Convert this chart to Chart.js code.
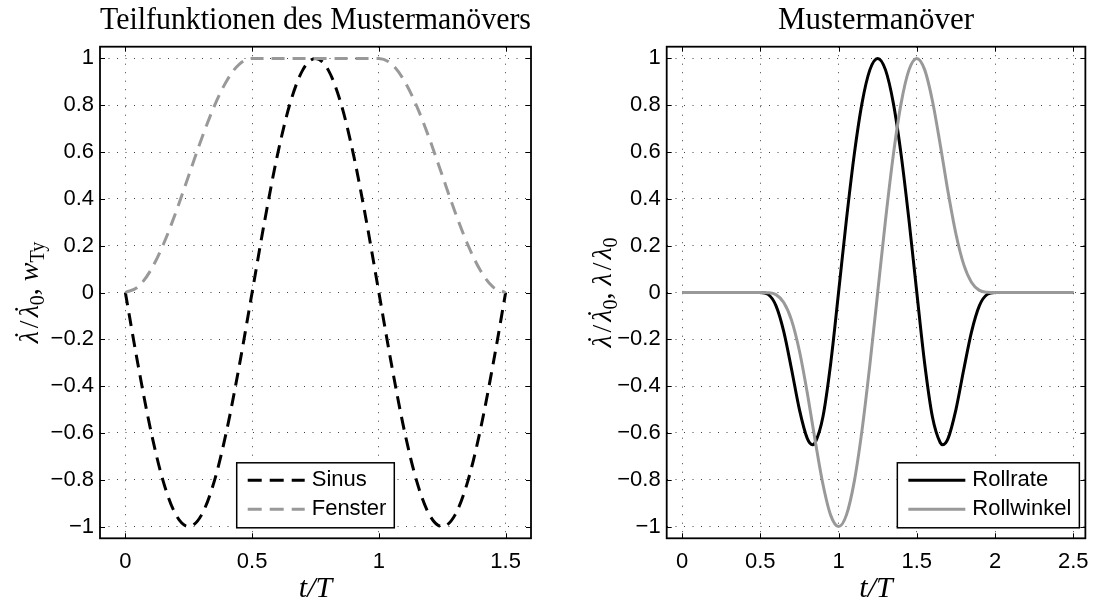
<!DOCTYPE html>
<html>
<head>
<meta charset="utf-8">
<script src="https://cdn.jsdelivr.net/npm/chart.js@4.4.1/dist/chart.umd.min.js"></script>
<style>
  html, body { margin: 0; padding: 0; background: #fff; overflow: hidden; }
  #wrap { position: relative; width: 1099px; height: 605px; }
  canvas { position: absolute; top: 0; }
  #left { left: 0; }
  #right { left: 560px; }
</style>
</head>
<body>
<div id="wrap">
  <canvas id="left" width="560" height="605"></canvas>
  <canvas id="right" width="539" height="605"></canvas>
</div>
<script>
// left panel: t/T from 0 to 1.5
const tLeft = [0, 0.05, 0.1, 0.15, 0.2, 0.25, 0.3, 0.35, 0.4, 0.45, 0.5, 0.55, 0.6, 0.65, 0.7, 0.75,
  0.8, 0.85, 0.9, 0.95, 1, 1.05, 1.1, 1.15, 1.2, 1.25, 1.3, 1.35, 1.4, 1.45, 1.5];
const sinusValues = [0, -0.309, -0.588, -0.809, -0.951, -1, -0.951, -0.809, -0.588, -0.309, 0,
  0.309, 0.588, 0.809, 0.951, 1, 0.951, 0.809, 0.588, 0.309, 0,
  -0.309, -0.588, -0.809, -0.951, -1, -0.951, -0.809, -0.588, -0.309, 0];
const fensterValues = [0, 0.024, 0.095, 0.206, 0.345, 0.5, 0.655, 0.794, 0.905, 0.976, 1,
  1, 1, 1, 1, 1, 1, 1, 1, 1, 1,
  0.976, 0.905, 0.794, 0.655, 0.5, 0.345, 0.206, 0.095, 0.024, 0];

// right panel: t/T from 0 to 2.5
const tRight = [0, 0.5, 0.55, 0.6, 0.65, 0.7, 0.75, 0.8, 0.8333, 0.85, 0.9, 0.95, 1,
  1.05, 1.1, 1.15, 1.2, 1.25, 1.3, 1.35, 1.4, 1.45, 1.5,
  1.55, 1.6, 1.65, 1.6667, 1.7, 1.75, 1.8, 1.85, 1.9, 1.95, 2, 2.5];
const rollrateValues = [0, 0, -0.008, -0.056, -0.167, -0.329, -0.5, -0.623, -0.65, -0.642, -0.532, -0.302, 0,
  0.309, 0.588, 0.809, 0.951, 1, 0.951, 0.809, 0.588, 0.309, 0,
  -0.302, -0.532, -0.642, -0.65, -0.623, -0.5, -0.329, -0.167, -0.056, -0.008, 0, 0];
const rollwinkelValues = [0, 0, -0.001, -0.009, -0.043, -0.119, -0.25, -0.428, -0.563, -0.63, -0.818, -0.952, -1,
  -0.951, -0.809, -0.588, -0.309, 0, 0.309, 0.588, 0.809, 0.951, 1,
  0.952, 0.818, 0.63, 0.563, 0.428, 0.25, 0.119, 0.043, 0.009, 0.001, 0, 0];

const yTicks = [-1, -0.8, -0.6, -0.4, -0.2, 0, 0.2, 0.4, 0.6, 0.8, 1];
const yTickLabels = ['\u22121', '\u22120.8', '\u22120.6', '\u22120.4', '\u22120.2', '0', '0.2', '0.4', '0.6', '0.8', '1'];
const xTicksLeft = [0, 0.5, 1, 1.5];
const xTickLabelsLeft = ['0', '0.5', '1', '1.5'];
const xTicksRight = [0, 0.5, 1, 1.5, 2, 2.5];
const xTickLabelsRight = ['0', '0.5', '1', '1.5', '2', '2.5'];

// y-axis label pieces (dot = dot accent over the letter)
const yLabelLeft = [
  { t: 'λ', italic: true, dot: true }, { t: '/', gap: 3 }, { t: 'λ', italic: true, dot: true }, { t: '0', sub: true },
  { t: ', ' }, { t: 'w', italic: true }, { t: 'Ty', sub: true }
];
const yLabelRight = [
  { t: 'λ', italic: true, dot: true }, { t: '/', gap: 3 }, { t: 'λ', italic: true, dot: true }, { t: '0', sub: true },
  { t: ', ' }, { t: 'λ', italic: true }, { t: '/', gap: 3 }, { t: 'λ', italic: true }, { t: '0', sub: true }
];

const sansFont = "'Liberation Sans', Arial, sans-serif";
const serifFont = "'Liberation Serif', 'Times New Roman', serif";

function points(xs, ys) {
  return xs.map((x, i) => ({ x: x, y: ys[i] }));
}

// axes box with inward ticks on all four sides
const framePlugin = {
  id: 'frame',
  afterDraw(chart) {
    const { ctx, chartArea: a, scales: { x, y } } = chart;
    ctx.save();
    ctx.strokeStyle = '#000';
    ctx.lineWidth = 1;
    ctx.beginPath();
    x.ticks.forEach(t => {
      const px = Math.round(x.getPixelForValue(t.value)) + 0.5;
      ctx.moveTo(px, a.bottom); ctx.lineTo(px, a.bottom - 5);
      ctx.moveTo(px, a.top); ctx.lineTo(px, a.top + 5);
    });
    y.ticks.forEach(t => {
      const py = Math.round(y.getPixelForValue(t.value)) + 0.5;
      ctx.moveTo(a.left, py); ctx.lineTo(a.left + 5, py);
      ctx.moveTo(a.right, py); ctx.lineTo(a.right - 5, py);
    });
    ctx.stroke();
    ctx.lineWidth = 1.8;
    ctx.strokeRect(a.left, a.top, a.right - a.left, a.bottom - a.top);
    ctx.restore();
  }
};

function makeLegend(align) {
  return {
    id: 'boxLegend',
    afterDraw(chart) {
      const { ctx, chartArea: a } = chart;
      const sets = chart.data.datasets;
      ctx.save();
      ctx.font = '22px ' + sansFont;
      const textW = Math.max(...sets.map(d => ctx.measureText(d.label).width));
      const w = 75 + textW + 8, h = 65;
      const left = align === 'center' ? (a.left + a.right - w) / 2 : a.right - 6 - w;
      const top = a.bottom - 10.5 - h;
      ctx.fillStyle = '#fff';
      ctx.fillRect(left, top, w, h);
      ctx.strokeStyle = '#000';
      ctx.lineWidth = 1.5;
      ctx.strokeRect(left, top, w, h);
      sets.forEach((d, i) => {
        const yy = top + 17.5 + i * 29;
        ctx.strokeStyle = d.borderColor;
        ctx.lineWidth = d.borderWidth;
        ctx.setLineDash(d.borderDash ? [14, 8] : []);
        ctx.beginPath();
        ctx.moveTo(left + 11, yy);
        ctx.lineTo(left + 68, yy);
        ctx.stroke();
        ctx.setLineDash([]);
        ctx.fillStyle = '#000';
        ctx.textBaseline = 'middle';
        ctx.fillText(d.label, left + 75, yy);
      });
      ctx.restore();
    }
  };
}

function makeYLabel(parts, baseline) {
  return {
    id: 'yLabel',
    afterDraw(chart) {
      const { ctx, chartArea: a } = chart;
      const main = 28, sub = 20;
      const fontOf = s => (s.italic ? 'italic ' : '') + (s.sub ? sub : main) + 'px ' + serifFont;
      const widths = parts.map(s => {
        ctx.font = fontOf(s);
        return ctx.measureText(s.t).width + 2 * (s.gap || 0);
      });
      const total = widths.reduce((p, c) => p + c, 0);
      ctx.save();
      ctx.fillStyle = '#000';
      ctx.translate(baseline, (a.top + a.bottom) / 2);
      ctx.rotate(-Math.PI / 2);
      ctx.textBaseline = 'alphabetic';
      let x = -total / 2;
      parts.forEach((s, i) => {
        ctx.font = fontOf(s);
        ctx.textAlign = 'left';
        ctx.fillText(s.t, x + (s.gap || 0), s.sub ? 6 : 0);
        if (s.dot) {
          ctx.textAlign = 'center';
          ctx.font = main + 'px ' + serifFont;
          ctx.fillText('\u02D9', x + widths[i] / 2 + 2, -5);
        }
        x += widths[i];
      });
      ctx.restore();
    }
  };
}

function createChart(canvasId, datasets, opts) {
  return new Chart(document.getElementById(canvasId), {
    type: 'line',
    data: { datasets: datasets },
    options: {
      responsive: false,
      animation: false,
      layout: { padding: { left: 0, right: opts.padRight, top: 0, bottom: 0 } },
      elements: {
        point: { radius: 0 },
        line: { cubicInterpolationMode: 'monotone' }
      },
      plugins: {
        legend: { display: false },
        tooltip: { enabled: false },
        title: {
          display: true,
          fullSize: false,
          text: opts.title,
          color: '#000',
          font: { family: serifFont, size: 31, weight: 'normal', lineHeight: 1 },
          padding: { top: 5.5, bottom: 10.2 }
        }
      },
      scales: {
        x: {
          type: 'linear',
          min: opts.xMin,
          max: opts.xMax,
          afterBuildTicks: s => { s.ticks = opts.xTicks.map(v => ({ value: v })); },
          afterFit: s => { s.height = 66.7; },
          grid: { color: 'rgba(0,0,0,0.75)', lineWidth: 1, drawTicks: false },
          border: { display: false, dash: [1, 7.5] },
          ticks: {
            padding: 10, color: '#000', maxRotation: 0, autoSkip: false,
            font: { family: sansFont, size: 22 },
            callback: (v, i) => opts.xLabels[i]
          },
          title: {
            display: true, text: 't/T', color: '#000',
            font: { family: serifFont, size: 30, style: 'italic', lineHeight: 1 },
            padding: { top: 0, bottom: 1 }
          }
        },
        y: {
          min: -1.05,
          max: 1.05,
          afterBuildTicks: s => { s.ticks = yTicks.map(v => ({ value: v })); },
          afterFit: s => { s.width = opts.yWidth; },
          grid: { color: 'rgba(0,0,0,0.75)', lineWidth: 1, drawTicks: false },
          border: { display: false, dash: [1, 7.5] },
          ticks: {
            padding: 6, color: '#000', autoSkip: false,
            font: { family: sansFont, size: 22 },
            callback: (v, i) => yTickLabels[i]
          }
        }
      }
    },
    plugins: [framePlugin, makeLegend(opts.legendAlign), makeYLabel(opts.yLabel, opts.yLabelBaseline)]
  });
}

createChart('left', [
  {
    label: 'Sinus',
    data: points(tLeft, sinusValues),
    borderColor: '#000000',
    borderWidth: 3,
    borderDash: [13, 8],
    order: 1
  },
  {
    label: 'Fenster',
    data: points(tLeft, fensterValues),
    borderColor: '#999999',
    borderWidth: 3,
    borderDash: [13, 8],
    order: 0
  }
], {
  title: 'Teilfunktionen des Mustermanövers',
  yWidth: 100, padRight: 29,
  xMin: -0.1, xMax: 1.6,
  xTicks: xTicksLeft, xLabels: xTickLabelsLeft,
  legendAlign: 'center',
  yLabel: yLabelLeft, yLabelBaseline: 38
});

createChart('right', [
  {
    label: 'Rollrate',
    data: points(tRight, rollrateValues),
    borderColor: '#000000',
    borderWidth: 3,
    order: 1
  },
  {
    label: 'Rollwinkel',
    data: points(tRight, rollwinkelValues),
    borderColor: '#999999',
    borderWidth: 3,
    order: 0
  }
], {
  title: 'Mustermanöver',
  yWidth: 106.7, padRight: 5.7,
  xMin: -0.098, xMax: 2.577,
  xTicks: xTicksRight, xLabels: xTickLabelsRight,
  legendAlign: 'right',
  yLabel: yLabelRight, yLabelBaseline: 51
});
</script>
</body>
</html>
